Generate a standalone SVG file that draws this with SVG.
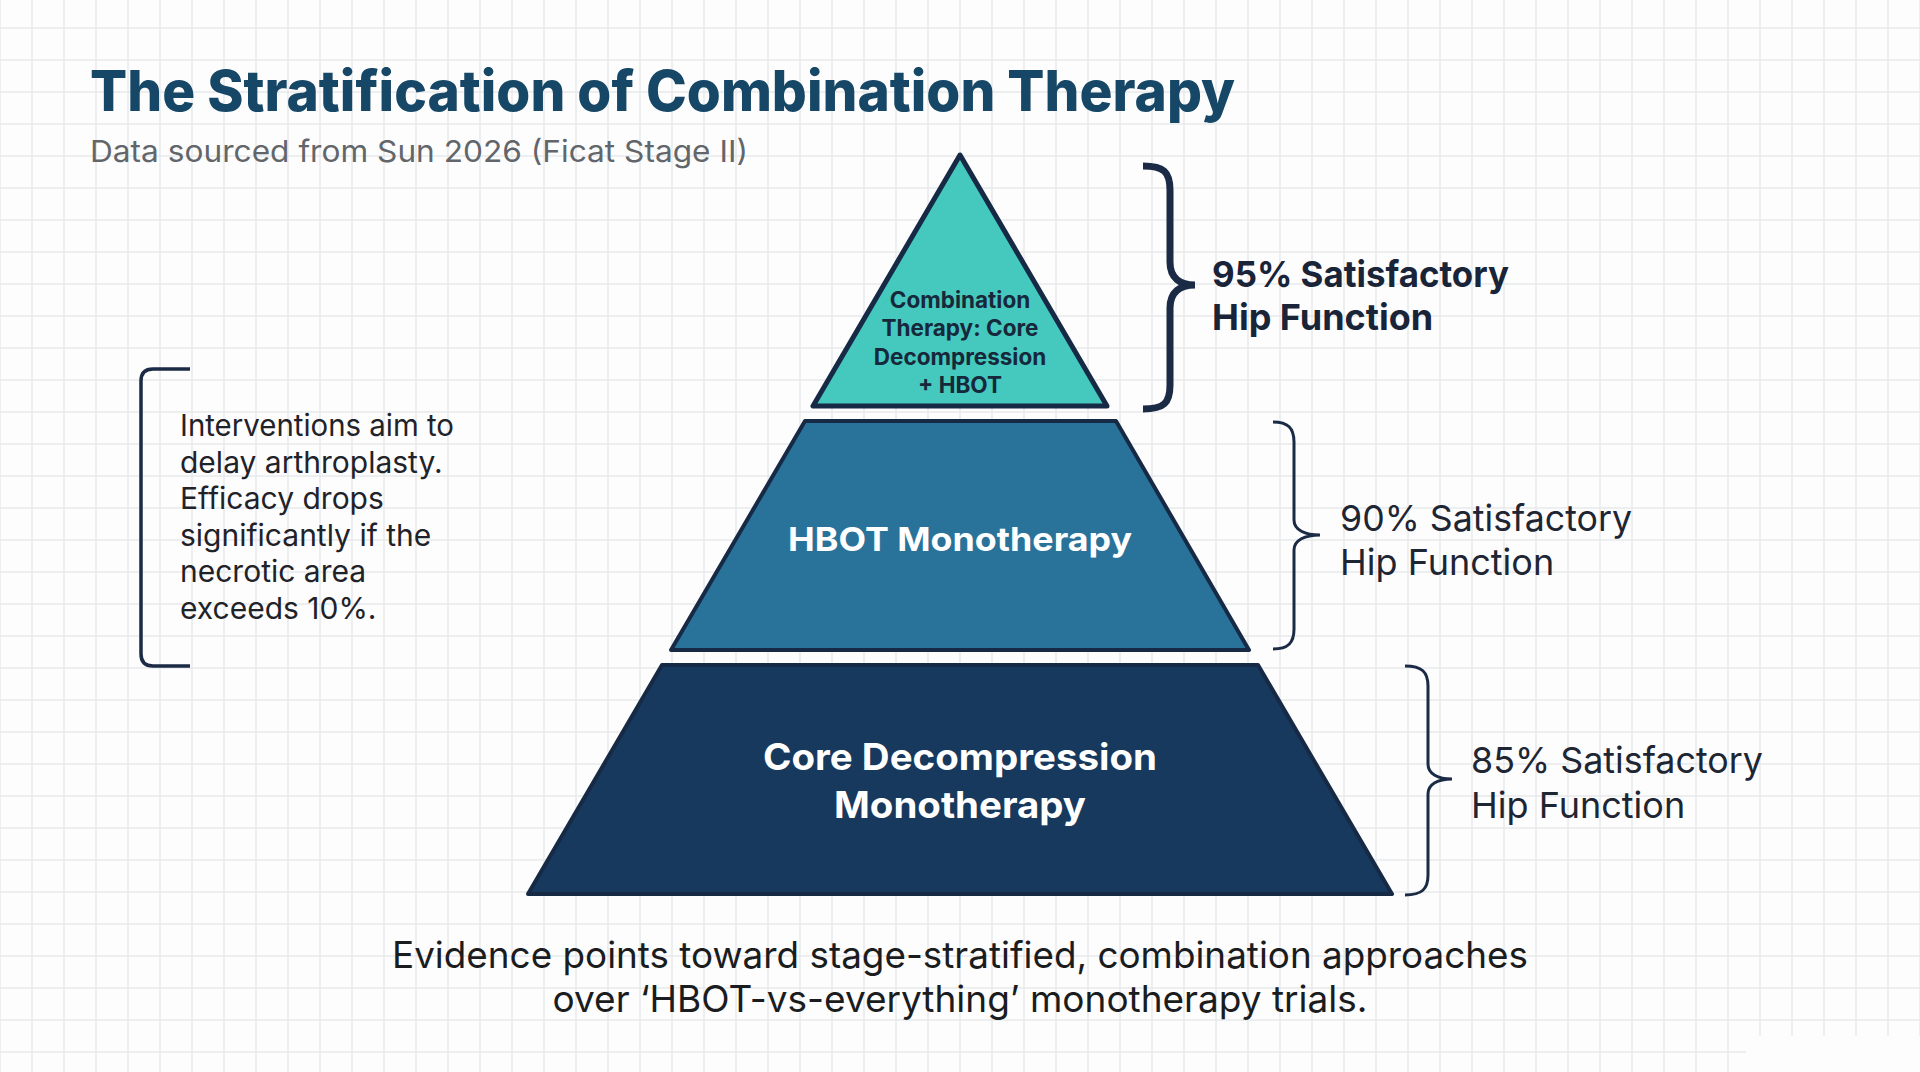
<svg xmlns="http://www.w3.org/2000/svg" width="1920" height="1072" viewBox="0 0 1920 1072">
  <defs>
    <pattern id="grid" width="32" height="32" patternUnits="userSpaceOnUse" x="-16" y="12">
      <path d="M16 0V32M0 16H32" fill="none" stroke="#e7e9eb" stroke-width="1.5"/>
    </pattern>
    <style>
      text { font-family: Inter, "Noto Sans", "Liberation Sans", sans-serif; }
      .title { font-size: 56px; font-weight: 800; fill: #164766; }
      .subtitle { font-size: 30px; fill: #62666b; }
      .tier { stroke: #172a45; stroke-linejoin: round; }
      .tierText { font-weight: 700; text-anchor: middle; }
      .brace { fill: none; stroke: #1b2a45; }
      .lbl { font-size: 36px; fill: #1e2533; }
      .lblBold { font-size: 36px; font-weight: 700; fill: #1a2438; }
      .note { font-size: 30px; fill: #1f2329; }
      .footer { font-size: 37px; fill: #1a1c20; text-anchor: middle; }
    </style>
  </defs>

  <rect width="1920" height="1072" fill="#fdfdfd"/>
  <rect width="1920" height="1072" fill="url(#grid)"/>
  <rect x="1746" y="1036" width="174" height="36" fill="#fdfdfd"/>

  <g id="header">
    <text class="title" x="90" y="111" textLength="1145" lengthAdjust="spacingAndGlyphs">The Stratification of Combination Therapy</text>
    <text class="subtitle" x="90" y="162" textLength="658" lengthAdjust="spacingAndGlyphs">Data sourced from Sun 2026 (Ficat Stage II)</text>
  </g>

  <g id="tier-top">
    <polygon class="tier" points="960,155 813,406 1107,406" fill="#45c8be" stroke-width="5"/>
    <text class="tierText" font-size="22.5" fill="#16283a"><tspan x="960" y="308">Combination</tspan><tspan x="960" y="336">Therapy: Core</tspan><tspan x="960" y="365">Decompression</tspan><tspan x="960" y="393">+ HBOT</tspan></text>
  </g>

  <g id="tier-middle">
    <polygon class="tier" points="805,421 1116,421 1249,650 671,650" fill="#29729a" stroke-width="4"/>
    <text class="tierText" font-size="33" fill="#ffffff" x="960" y="551" textLength="344" lengthAdjust="spacingAndGlyphs">HBOT Monotherapy</text>
  </g>

  <g id="tier-bottom">
    <polygon class="tier" points="662,665 1258,665 1392,894 528,894" fill="#16395d" stroke-width="4"/>
    <text class="tierText" font-size="37" fill="#ffffff"><tspan x="960" y="770" textLength="394" lengthAdjust="spacingAndGlyphs">Core Decompression</tspan><tspan x="960" y="818" textLength="252" lengthAdjust="spacingAndGlyphs">Monotherapy</tspan></text>
  </g>

  <g id="connectors">
    <path class="brace" stroke-width="7" d="M1143 166 C1164 166 1170 172 1170 190 V262 C1170 278 1180 285 1195 285 C1180 285 1170 292 1170 308 V385 C1170 403 1164 409 1143 409"/>
    <path class="brace" stroke-width="3" d="M1273 422 C1288 422 1294 428 1294 442 V520 C1294 530 1305 535 1320 535 C1305 535 1294 540 1294 550 V629 C1294 643 1288 649 1273 649"/>
    <path class="brace" stroke-width="3" d="M1405 666 C1422 666 1428 672 1428 686 V764 C1428 774 1438 779 1452 779 C1438 779 1428 784 1428 794 V875 C1428 889 1422 895 1405 895"/>
    <path class="brace" stroke-width="3.5" d="M190 369 H153 Q141 369 141 381 V654 Q141 666 153 666 H190"/>
  </g>

  <g id="label-95">
    <text class="lblBold"><tspan x="1212" y="287" textLength="297" lengthAdjust="spacingAndGlyphs">95% Satisfactory</tspan><tspan x="1212" y="330">Hip Function</tspan></text>
  </g>
  <g id="label-90">
    <text class="lbl"><tspan x="1340" y="531" textLength="292" lengthAdjust="spacingAndGlyphs">90% Satisfactory</tspan><tspan x="1340" y="575">Hip Function</tspan></text>
  </g>
  <g id="label-85">
    <text class="lbl"><tspan x="1471" y="773" textLength="292" lengthAdjust="spacingAndGlyphs">85% Satisfactory</tspan><tspan x="1471" y="818">Hip Function</tspan></text>
  </g>

  <g id="note">
    <text class="note"><tspan x="180" y="436" textLength="274" lengthAdjust="spacingAndGlyphs">Interventions aim to</tspan><tspan x="180" y="472.5">delay arthroplasty.</tspan><tspan x="180" y="509">Efficacy drops</tspan><tspan x="180" y="545.5">significantly if the</tspan><tspan x="180" y="582">necrotic area</tspan><tspan x="180" y="619">exceeds 10%.</tspan></text>
  </g>

  <g id="footer">
    <text class="footer"><tspan x="960" y="968" textLength="1136" lengthAdjust="spacingAndGlyphs">Evidence points toward stage-stratified, combination approaches</tspan><tspan x="960" y="1012">over ‘HBOT-vs-everything’ monotherapy trials.</tspan></text>
  </g>
</svg>
